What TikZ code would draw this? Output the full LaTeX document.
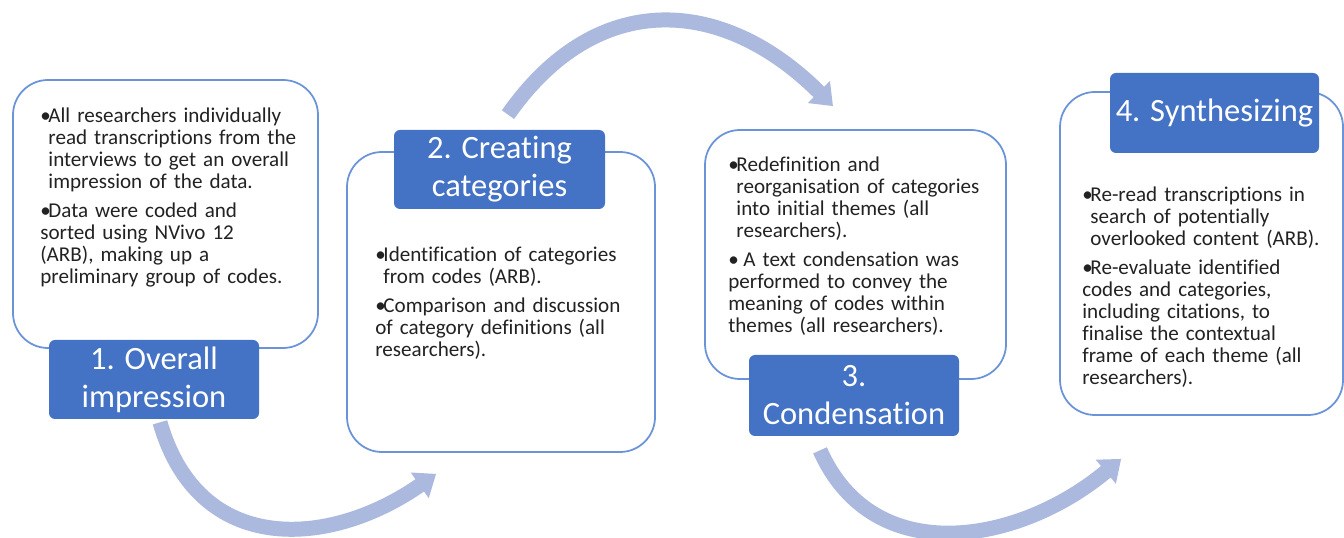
\documentclass[tikz,border=0pt]{standalone}
\usepackage{fontspec}
\setmainfont[Ligatures=NoCommon]{Carlito}
\usepackage{xcolor}
\usepackage{tikz}
\usetikzlibrary{arrows.meta}

\definecolor{titleblue}{HTML}{4472C4}
\definecolor{boxline}{HTML}{6A93D8}
\definecolor{arrowblue}{HTML}{ABB9DE}
\definecolor{bodytext}{HTML}{222222}

\newcommand{\bul}{\hangindent=4.6pt\hangafter=1\noindent\makebox[4.6pt][l]{\textbullet}}

\begin{document}
\begin{tikzpicture}
        \tikzstyle{stagebox}=[draw=boxline,line width=1pt,rounded corners=0.7cm,fill=white]
        \tikzstyle{stagetitle}=[fill=titleblue,text=white,rounded corners=0.12cm,
        align=center,inner sep=0pt,font=\fontsize{18.5}{21.6}\selectfont]
        \tikzstyle{stagetext}=[anchor=north west,inner sep=0pt,text width=5.8cm,align=left,
        text=bodytext,font=\fontsize{12}{12.5}\selectfont,
        execute at begin node={\setlength{\parskip}{4pt}}]
        \tikzstyle{cyclearrow}=[draw=arrowblue,line width=0.3cm,
        -{Triangle[width=0.6cm,length=0.4cm]}]

        \useasboundingbox (0,0) rectangle (26.88,10.74);

        %% Draw stage boxes
        \node[stagebox,minimum width=6.10cm,minimum height=5.36cm] (box_1) at (3.31,6.46) {};
        \node[stagebox,minimum width=6.16cm,minimum height=6.00cm] (box_2) at (10.02,4.70) {};
        \node[stagebox,minimum width=6.02cm,minimum height=4.98cm] (box_3) at (17.11,5.65) {};
        \node[stagebox,minimum width=5.66cm,minimum height=6.46cm] (box_4) at (24.03,5.67) {};

        %% Draw stage titles on top of the boxes
        \node[stagetitle,minimum width=4.20cm,minimum height=1.58cm] (title_1) at (3.08,3.15)
            {1. Overall\\impression};
        \node[stagetitle,minimum width=4.22cm,minimum height=1.58cm] (title_2) at (9.99,7.35)
            {2. Creating\\categories};
        \node[stagetitle,minimum width=4.20cm,minimum height=1.62cm] (title_3) at (17.08,2.83)
            {3.\\Condensation};
        \node[stagetitle,minimum width=4.18cm,minimum height=1.60cm] (title_4) at (24.29,8.48)
            {4. Synthesizing};

        %% Bullet texts
        \node[stagetext] (text_1) at (0.80,8.58) {%
            \bul All researchers individually\newline read transcriptions from the\newline
            interviews to get an overall\newline impression of the data.\par
            \bul Data were coded and\newline sorted using NVivo 12\newline
            (ARB), making up a\newline preliminary group of codes.};
        \node[stagetext] (text_2) at (7.50,5.80) {%
            \bul Identification of categories\newline from codes (ARB).\par
            \bul Comparison and discussion\newline of category definitions (all\newline
            researchers).};
        \node[stagetext] (text_3) at (14.56,7.60) {%
            \bul Redefinition and\newline reorganisation of categories\newline
            into initial themes (all\newline researchers).\par
            \bul\ A text condensation was\newline performed to convey the\newline
            meaning of codes within\newline themes (all researchers).};
        \node[stagetext] (text_4) at (21.64,7.00) {%
            \bul Re-read transcriptions in\newline search of potentially\newline
            overlooked content (ARB).\par
            \bul Re-evaluate identified\newline codes and categories,\newline
            including citations, to\newline finalise the contextual\newline
            frame of each theme (all\newline researchers).};

        %% Curved arrows between the stages
        \draw[cyclearrow] ([xshift=0.12cm,yshift=-0.06cm]title_1.south)
            .. controls +(-74:2.8) and +(215:2.6) .. ([xshift=1.8cm,yshift=-0.42cm]box_2.south west);
        \draw[cyclearrow] ([xshift=0.17cm,yshift=0.3cm]title_2.north)
            .. controls +(55:3.1) and +(135:3.1) .. ([xshift=-0.45cm,yshift=0.46cm]box_3.north);
        \draw[cyclearrow] ([xshift=-0.68cm,yshift=-0.28cm]title_3.south)
            .. controls +(-66:2.64) and +(220:2.64) .. ([xshift=1.24cm,yshift=-0.86cm]box_4.south west);

\end{tikzpicture}
\end{document}
